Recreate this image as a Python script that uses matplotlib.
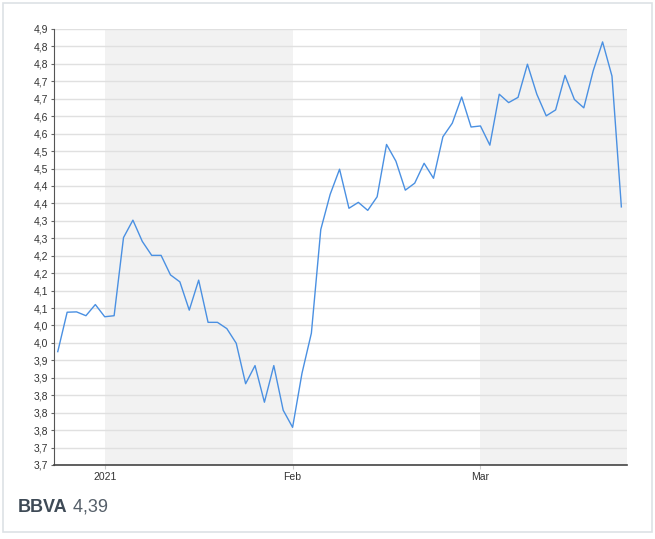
import numpy as np
import matplotlib.pyplot as plt
from matplotlib.patches import Rectangle

# Cierres diarios BBVA (dic 2020 - mar 2021)
precios = [3.975, 4.088, 4.089, 4.078, 4.110, 4.075, 4.078, 4.302, 4.352, 4.291,
           4.251, 4.251, 4.195, 4.175, 4.094, 4.180, 4.059, 4.059, 4.041, 3.999,
           3.883, 3.935, 3.830, 3.935, 3.807, 3.758, 3.913, 4.028, 4.325, 4.426,
           4.498, 4.386, 4.403, 4.380, 4.419, 4.569, 4.521, 4.438, 4.458, 4.515,
           4.472, 4.591, 4.630, 4.705, 4.619, 4.622, 4.567, 4.713, 4.689, 4.704,
           4.799, 4.713, 4.651, 4.668, 4.767, 4.698, 4.674, 4.780, 4.863, 4.765,
           4.390]

# posiciones (índice de sesión) donde empieza cada mes
meses_pos = [5, 25, 45]
meses_lab = ['2021', 'Feb', 'Mar']

ytick_lab = ['3,7', '3,7', '3,8', '3,8', '3,8', '3,9', '3,9', '4,0', '4,0', '4,1',
             '4,1', '4,2', '4,2', '4,3', '4,3', '4,4', '4,4', '4,5', '4,5', '4,6',
             '4,6', '4,7', '4,7', '4,8', '4,8', '4,9']
ytick_pos = 3.65 + 0.05 * np.arange(len(ytick_lab))

titulo = 'BBVA'
ultimo = '4,39'

plt.rcParams['font.family'] = ['Liberation Sans', 'DejaVu Sans']

fig = plt.figure(figsize=(6.55, 5.39), dpi=100)
ax = fig.add_axes([54/655, 1-465/539, (627-54)/655, (465-29)/539])

x = np.arange(len(precios))
xmax = len(precios) - 0.4

# bandas grises para enero y marzo
ax.axvspan(meses_pos[0], meses_pos[1], color='#f2f2f2', lw=0, zorder=0)
ax.axvspan(meses_pos[2], xmax, color='#f2f2f2', lw=0, zorder=0)

ax.plot(x, precios, color='#4a90e2', lw=1.0, zorder=3)

ax.set_xlim(-0.4, xmax)
ax.set_ylim(3.65, 4.9)
ax.set_yticks(ytick_pos)
ax.set_yticklabels(ytick_lab)
ax.set_xticks(meses_pos)
ax.set_xticklabels(meses_lab)

ax.grid(axis='y', color='#e0e0e0', lw=1, zorder=1)
ax.set_axisbelow(True)
ax.tick_params(axis='both', labelsize=7.5, colors='#333333', length=3, width=0.8, pad=2)
ax.tick_params(axis='x', color='#cccccc')
ax.tick_params(axis='y', color='#666666', length=2)

for s in ['top', 'right']:
    ax.spines[s].set_visible(False)
ax.spines['left'].set_color('#555555')
ax.spines['bottom'].set_color('#444444')
ax.spines['bottom'].set_linewidth(1.2)
ax.patch.set_alpha(0)

# marco exterior
fig.patches.append(Rectangle((3/655, 7/539), 649/655, 529/539, transform=fig.transFigure,
                             fill=False, edgecolor='#dde1e5', lw=1.2))

t1 = fig.text(18/655, 1-512/539, titulo, fontsize=13, fontweight='bold',
              color='#3e4a56', va='baseline')
ax.annotate(' ' + ultimo, xy=(1, 0), xycoords=t1, va='bottom', fontsize=13,
            color='#555f69')

fig.savefig('out.png', dpi=100)
